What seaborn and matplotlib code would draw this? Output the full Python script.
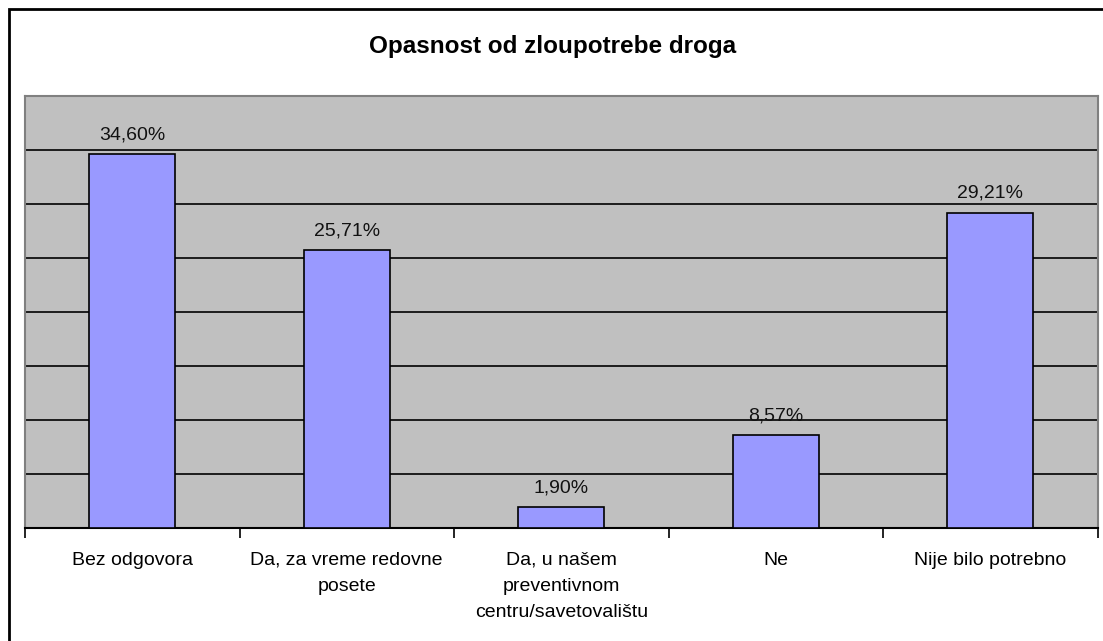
import matplotlib
matplotlib.use("Agg")
import matplotlib.pyplot as plt
from matplotlib.patches import Rectangle
import seaborn as sns

# data
categories = ["Bez odgovora", "Da, za vreme redovne posete",
              "Da, u našem preventivnom centru/savetovalištu", "Ne",
              "Nije bilo potrebno"]
tick_labels = ["Bez odgovora", "Da, za vreme redovne\nposete",
               "Da, u našem\npreventivnom\ncentru/savetovalištu", "Ne",
               "Nije bilo potrebno"]
values = [34.60, 25.71, 1.90, 8.57, 29.21]
title = "Opasnost od zloupotrebe droga"

sns.set_style("white")
plt.rcParams['font.family'] = ['Liberation Sans', 'DejaVu Sans']
plt.rcParams['text.color'] = 'black'

W, H = 1103, 641
fig = plt.figure(figsize=(W / 100, H / 100), dpi=100)
fig.patch.set_facecolor("white")

# axes placed in pixel terms
left, right, top, bottom = 25, 1097.5, 96, 528
ax = fig.add_axes([left / W, (H - bottom) / H, (right - left) / W, (bottom - top) / H])

sns.barplot(x=categories, y=values, color="#9999FF", saturation=1,
            edgecolor="black", linewidth=1.2, width=0.4, ax=ax, zorder=3)

ax.set_facecolor("#C0C0C0")
ax.set_ylim(0, 40)
ax.set_xlim(-0.5, len(categories) - 0.5)
ax.set_yticks(range(0, 41, 5))
ax.yaxis.grid(True, color="black", linewidth=1.2)
ax.set_axisbelow(True)
ax.tick_params(axis="y", length=0, labelleft=False)
ax.set_ylabel("")
ax.set_xlabel("")

# category labels centred, tick marks between categories
ax.set_xticks(range(len(categories)))
ax.set_xticklabels(tick_labels, fontsize=14, linespacing=1.72, color="black")
ax.tick_params(axis="x", which="major", length=0, pad=17)
ax.set_xticks([i - 0.5 for i in range(len(categories) + 1)], minor=True)
ax.tick_params(axis="x", which="minor", bottom=True, length=7, width=1.2,
               color="black", direction="out")

for side in ["left", "top", "right"]:
    ax.spines[side].set_color("#808080")
    ax.spines[side].set_linewidth(1.5)
ax.spines["bottom"].set_color("black")
ax.spines["bottom"].set_linewidth(1.5)

pct = [f"{v:.2f}%".replace(".", ",") for v in values]
ax.bar_label(ax.containers[0], labels=pct, padding=8, fontsize=14, color="#111111")

fig.text(553 / W, 1 - 47 / H, title, ha="center", va="center",
         fontsize=17.5, fontweight="bold", color="black")

# outer chart border (cut off at right and bottom)
fig.patches.append(Rectangle((9 / W, -0.1), 1.2, (H - 9) / H + 0.1,
                             transform=fig.transFigure, fill=False,
                             edgecolor="black", linewidth=2))

fig.savefig("out.png", dpi=100)
